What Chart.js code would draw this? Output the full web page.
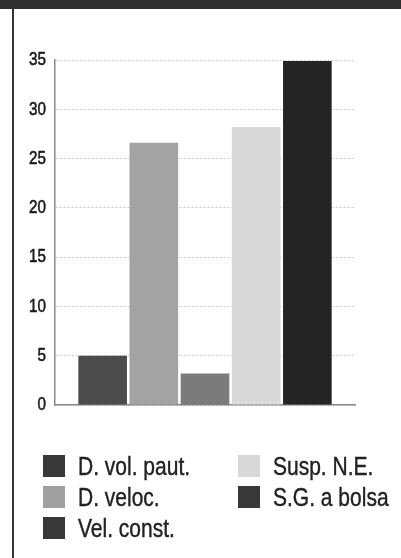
<!DOCTYPE html>
<html>
<head>
<meta charset="utf-8">
<script src="https://cdn.jsdelivr.net/npm/chart.js@4/dist/chart.umd.min.js"></script>
<style>
    html, body {
        margin: 0;
        padding: 0;
        background: #fff;
    }
    #frame {
        position: relative;
        width: 401px;
        height: 558px;
        overflow: hidden;
        background: #fff;
    }
    #topBand {
        position: absolute;
        left: 0;
        top: 0;
        width: 401px;
        height: 9px;
        background: #2f2f2f;
    }
    #leftRule {
        position: absolute;
        left: 12px;
        top: 9px;
        width: 2px;
        height: 549px;
        background: #333;
    }
    #chartBox {
        position: absolute;
        left: 0;
        top: 0;
        width: 401px;
        height: 558px;
    }
    .legend-item {
        position: absolute;
        height: 22px;
        font-family: 'Liberation Sans', Arial, sans-serif;
        font-size: 25px;
        line-height: 22px;
        color: #222;
        white-space: nowrap;
        -webkit-text-stroke: 0.4px #222;
    }
    .legend-swatch {
        position: absolute;
        left: 0;
        top: 0;
        width: 22px;
        height: 22px;
    }
    .legend-text {
        position: absolute;
        left: 35px;
        top: 0;
        transform: scaleX(0.84);
        transform-origin: left center;
    }
</style>
</head>
<body>
<div id="frame">
    <div id="topBand"></div>
    <div id="leftRule"></div>
    <div id="chartBox"><canvas id="chart" width="401" height="558"></canvas></div>
    <div id="legend"></div>
</div>
<script>
// Series names, in legend order (column by column)
const seriesNames = ['D. vol. paut.', 'D. veloc.', 'Vel. const.', 'Susp. N.E.', 'S.G. a bolsa'];
const seriesValues = [5, 26.6, 3.2, 28.2, 34.9];
const barColors = ['#4b4b4b', '#a3a3a3', '#7b7b7b', '#d9d9d9', '#242424'];
const swatchColors = ['#383838', '#a0a0a0', '#383838', '#d8d8d8', '#383838'];
const yTicks = [0, 5, 10, 15, 20, 25, 30, 35];

const datasets = seriesNames.map((name, i) => ({
    label: name,
    data: [seriesValues[i]],
    backgroundColor: barColors[i],
    borderWidth: 0,
    categoryPercentage: 0.853,
    barPercentage: 0.95
}));

// Narrow tick labels: the canvas has no condensed face, so squeeze a regular one
const narrowTicks = {
    id: 'narrowTicks',
    afterDraw(c) {
        const scale = c.scales.y;
        const ctx = c.ctx;
        ctx.save();
        ctx.font = "19px 'Liberation Sans', Arial, sans-serif";
        ctx.fillStyle = '#1a1a1a';
        ctx.strokeStyle = '#1a1a1a';
        ctx.lineWidth = 0.6;
        ctx.textAlign = 'right';
        ctx.textBaseline = 'middle';
        scale.ticks.forEach(t => {
            const y = scale.getPixelForValue(t.value);
            ctx.save();
            ctx.translate(46, y);
            ctx.scale(0.8, 1);
            ctx.fillText(String(t.value), 0, 0);
            ctx.strokeText(String(t.value), 0, 0);
            ctx.restore();
        });
        ctx.restore();
    }
};

const chart = new Chart(document.getElementById('chart'), {
    type: 'bar',
    data: {
        labels: [''],
        datasets: datasets
    },
    options: {
        responsive: false,
        animation: false,
        layout: {
            padding: { left: 0, top: 60, right: 46, bottom: 153 }
        },
        plugins: {
            legend: { display: false },
            tooltip: { enabled: false }
        },
        scales: {
            x: {
                grid: { display: false },
                border: { display: true, color: '#8a8a8a', width: 1.5 },
                ticks: { display: false },
                afterFit: (scale) => { scale.height = 0; }
            },
            y: {
                min: 0,
                max: 35,
                afterBuildTicks: (scale) => {
                    scale.ticks = yTicks.map(v => ({ value: v }));
                },
                afterFit: (scale) => { scale.width = 55; },
                border: { display: true, color: '#8a8a8a', width: 1.5, dash: [2, 2] },
                grid: {
                    color: '#c8c8c8',
                    lineWidth: 1,
                    drawTicks: false
                },
                ticks: { display: false }
            }
        }
    },
    plugins: [narrowTicks]
});

// Legend: two columns, filled top to bottom
const legend = document.getElementById('legend');
const colLeft = [43, 238];
const rowTop = [455, 486, 517];
seriesNames.forEach((name, i) => {
    const col = Math.floor(i / 3);
    const row = i % 3;
    const item = document.createElement('div');
    item.className = 'legend-item';
    item.style.left = colLeft[col] + 'px';
    item.style.top = rowTop[row] + 'px';
    const sw = document.createElement('div');
    sw.className = 'legend-swatch';
    sw.style.background = swatchColors[i];
    const tx = document.createElement('div');
    tx.className = 'legend-text';
    tx.textContent = name;
    item.appendChild(sw);
    item.appendChild(tx);
    legend.appendChild(item);
});
</script>
</body>
</html>
